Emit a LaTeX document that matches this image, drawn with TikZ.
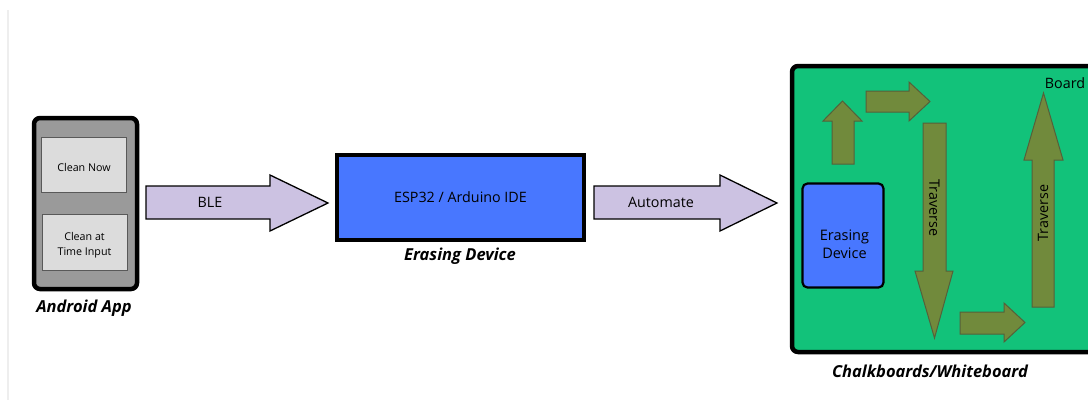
\documentclass[tikz,border=0pt]{standalone}
\usepackage{fontspec}
\setmainfont{Open Sans}
\definecolor{phonegray}{HTML}{9A9A9A}
\definecolor{btngray}{HTML}{DCDCDC}
\definecolor{lav}{HTML}{CCC2E2}
\definecolor{espblue}{HTML}{4877FF}
\definecolor{boardgreen}{HTML}{12C27A}
\definecolor{olive}{HTML}{718A3C}
\definecolor{oliveline}{HTML}{55603A}
\definecolor{faint}{HTML}{EEEEEE}
\begin{document}
\begin{tikzpicture}[x=1pt,y=-1pt,
  lbl/.style={font=\fontsize{16.5}{19}\selectfont\bfseries\itshape},
  txt/.style={font=\fontsize{14.3}{17}\selectfont, text=black},
  small/.style={font=\fontsize{10.7}{15}\selectfont, align=center},
  btn/.style={draw=gray!70!black, fill=btngray, line width=1pt},
  bigarrow/.style={draw=black, fill=lav, line width=1.3pt, line join=miter},
  oarrow/.style={draw=oliveline, fill=olive, line width=1pt},
  thick box/.style={draw=black, line width=4.5pt}
]
\useasboundingbox (0,0) rectangle (1088,413);
\fill[white] (0,0) rectangle (1088,413);
\draw[faint, line width=1.2pt] (8,10) -- (8,400);

% phone
\draw[thick box, fill=phonegray, rounded corners=6pt] (34,118) rectangle (137,289);
\node[btn, minimum width=85pt, minimum height=55pt] (now) at (84,165) {};
\node[small] (nowt) at (84,167) {Clean Now};
\node[btn, minimum width=85pt, minimum height=56pt] (time) at (84.5,242) {};
\node[small] (timet) at (84.5,245) {Clean at\\Time Input};
\node[lbl] (android) at (84,308) {Android App};

% BLE arrow
\draw[bigarrow] (146,186) -- (270,186) -- (270,175) -- (328,203) -- (270,231) -- (270,219) -- (146,219) -- cycle;
\node[txt] (ble) at (210,202) {BLE};

% ESP box
\node[thick box, fill=espblue, minimum width=247pt, minimum height=85pt, txt] (esp) at (460.5,197.5) {ESP32 / Arduino IDE};
\node[lbl] (edev) at (460,256) {Erasing Device};

% Automate arrow
\draw[bigarrow] (594,186) -- (720,186) -- (720,175) -- (777,203) -- (720,231) -- (720,219) -- (594,219) -- cycle;
\node[txt] (auto) at (661,202) {Automate};

% board
\draw[thick box, fill=boardgreen, rounded corners=6pt] (792,66) rectangle (1100,352);
\node[lbl] (chalk) at (930,371) {Chalkboards/Whiteboard};
\node[txt] (board) at (1065,83) {Board};

% erasing device on board
\node[draw=black, line width=2.2pt, fill=espblue, rounded corners=5pt, minimum width=81pt, minimum height=104pt] (dev) at (843,235.5) {};
\node[align=center, font=\fontsize{14.5}{18.5}\selectfont] (devt) at (844.5,244) {Erasing\\Device};

% olive arrows
\draw[oarrow] (832,164) -- (832,121) -- (823,121) -- (842.5,101) -- (862,121) -- (854,121) -- (854,164) -- cycle;
\draw[oarrow] (866,91) -- (909,91) -- (909,82) -- (930,101.5) -- (909,121) -- (909,112) -- (866,112) -- cycle;
\draw[oarrow] (923,123) -- (946,123) -- (946,271) -- (953,271) -- (934.5,338) -- (915,271) -- (923,271) -- cycle;
\node[txt, rotate=-90] (tr1) at (934.5,208) {Traverse};
\draw[oarrow] (960,312) -- (1004,312) -- (1004,303) -- (1025,322.5) -- (1004,342) -- (1004,334) -- (960,334) -- cycle;
\draw[oarrow] (1032,307) -- (1032,160) -- (1024,160) -- (1043.5,93) -- (1063,160) -- (1054,160) -- (1054,307) -- cycle;
\node[txt, rotate=90] (tr2) at (1043,213) {Traverse};
\end{tikzpicture}
\end{document}
